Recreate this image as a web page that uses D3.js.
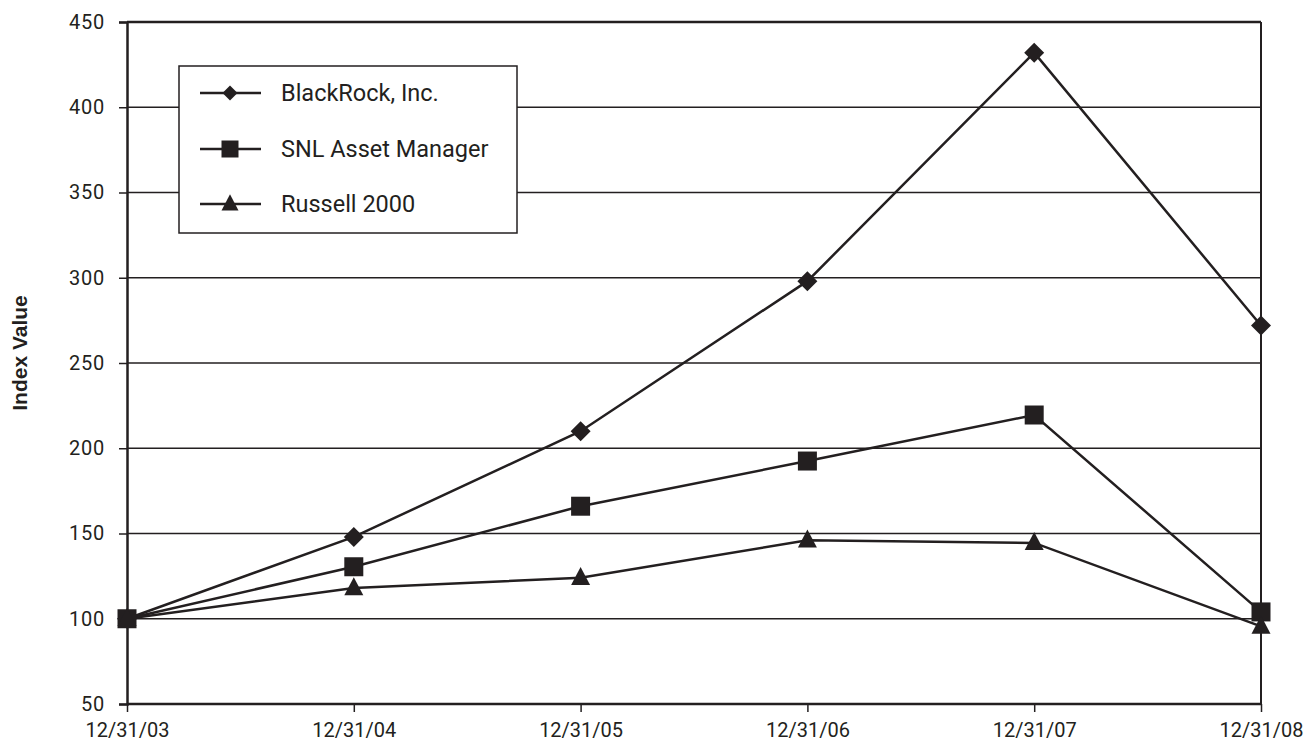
<!DOCTYPE html>
<html><head><meta charset="utf-8">
<script src="https://cdn.jsdelivr.net/npm/d3@7"></script>
<style>body{margin:0;background:#fff}svg{display:block}</style>
</head><body>
<svg id="c" width="1307" height="742"></svg>
<script>
const categories = ["12/31/03","12/31/04","12/31/05","12/31/06","12/31/07","12/31/08"];
const blackrock = [100, 148, 210, 298, 432, 272];
const snl = [100, 130.5, 166, 192.5, 219.5, 104];
const russell = [100, 118, 124, 146, 144.5, 95.5];
const yTicks = [50,100,150,200,250,300,350,400,450];
const seriesNames = ["BlackRock, Inc.","SNL Asset Manager","Russell 2000"];
const markers = ["diamond","square","triangle"];

const ink = "#231f20";
const svg = d3.select("#c");
const pL = 127, pR = 1261, pT = 22, pB = 704;
const x = d3.scalePoint().domain(categories).range([pL, pR]);
const y = d3.scaleLinear().domain([50,450]).range([pB, pT]);
const font = "Roboto, 'DejaVu Sans', sans-serif";

// gridlines
svg.append("g").selectAll("line").data(yTicks.filter(d=>d>50 && d<450)).join("line")
  .attr("x1", pL).attr("x2", pR).attr("y1", d=>y(d)).attr("y2", d=>y(d))
  .attr("stroke", ink).attr("stroke-width", 1.5);

// frame
svg.append("line").attr("x1",pL).attr("x2",pR).attr("y1",pT).attr("y2",pT).attr("stroke",ink).attr("stroke-width",2.5);
svg.append("line").attr("x1",pL).attr("x2",pR).attr("y1",pB).attr("y2",pB).attr("stroke",ink).attr("stroke-width",2.5);
svg.append("line").attr("x1",pR).attr("x2",pR).attr("y1",pT).attr("y2",pB).attr("stroke",ink).attr("stroke-width",2);

// axes
const yAxis = svg.append("g").attr("transform",`translate(${pL},0)`)
  .call(d3.axisLeft(y).tickValues(yTicks).tickSize(8).tickPadding(14).tickFormat(d3.format("d")));
yAxis.select(".domain").attr("stroke", ink).attr("stroke-width", 2.5);
yAxis.selectAll(".tick line").attr("stroke", ink).attr("stroke-width", 1.5);
yAxis.selectAll("text").attr("font-family", font).attr("font-size", 20).attr("letter-spacing", 0.8).attr("fill", ink);

const xAxis = svg.append("g").attr("transform",`translate(0,${pB})`)
  .call(d3.axisBottom(x).tickSize(8).tickSizeOuter(0).tickPadding(11));
xAxis.select(".domain").remove();
xAxis.selectAll(".tick line").attr("stroke", ink).attr("stroke-width", 1.5);
xAxis.selectAll("text").attr("font-family", font).attr("font-size", 20).attr("fill", ink);

// y title
svg.append("text").attr("transform","translate(27,353) rotate(-90)").attr("text-anchor","middle")
  .attr("font-family","'Liberation Sans', Arial, sans-serif").attr("font-weight","bold").attr("font-size",21)
  .attr("fill", ink).text("Index Value");

// marker shapes
function markerPath(type, s) {
  if (type === "diamond") { const h = s/2; return `M0,${-h}L${h},0L0,${h}L${-h},0Z`; }
  if (type === "square") { const h = s/2; return `M${-h},${-h}H${h}V${h}H${-h}Z`; }
  const w = s/2, hh = s*0.95; return `M0,${-hh*0.6}L${w},${hh*0.4}L${-w},${hh*0.4}Z`;
}

const data = [blackrock, snl, russell];
const line = d3.line().x((d,i)=>x(categories[i])).y(d=>y(d));
data.forEach((vals, k) => {
  svg.append("path").attr("d", line(vals)).attr("fill","none").attr("stroke", ink).attr("stroke-width", 2.5);
});
data.forEach((vals, k) => {
  svg.append("g").selectAll("path").data(vals).join("path")
    .attr("transform",(d,i)=>`translate(${x(categories[i])},${y(d)})`)
    .attr("d", markerPath(markers[k], markers[k]==="diamond"?20:19)).attr("fill", ink);
});

// legend
const lg = svg.append("g");
lg.append("rect").attr("x",179).attr("y",66).attr("width",338).attr("height",167)
  .attr("fill","#fff").attr("stroke", ink).attr("stroke-width",1.5);
const ly = [93, 149, 204];
seriesNames.forEach((n,k)=>{
  lg.append("line").attr("x1",200).attr("x2",261).attr("y1",ly[k]).attr("y2",ly[k]).attr("stroke",ink).attr("stroke-width",2.5);
  lg.append("path").attr("transform",`translate(230,${ly[k]})`).attr("d", markerPath(markers[k], markers[k]==="diamond"?15:17)).attr("fill",ink);
  lg.append("text").attr("x",281).attr("y",ly[k]).attr("dy","0.36em").attr("font-family",font).attr("font-size",23.5).attr("fill",ink).text(n);
});
</script>
</body></html>
